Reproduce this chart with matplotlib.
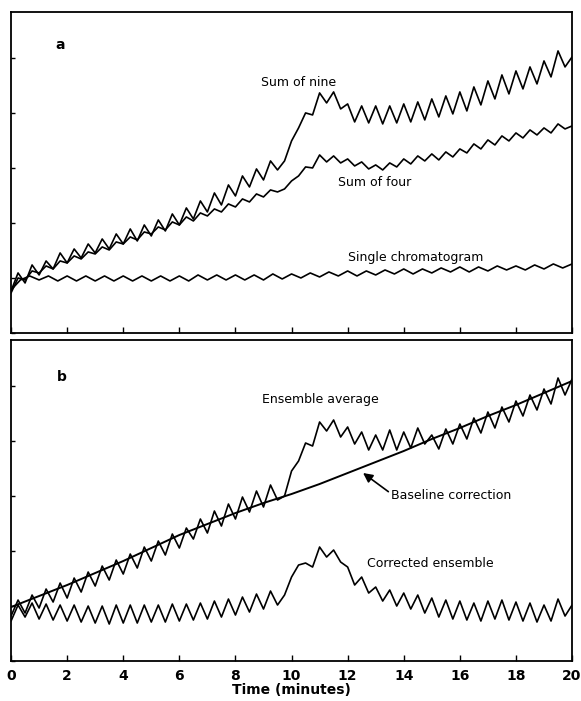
import numpy as np
from matplotlib import pyplot as plt

# Panel a traces (arbitrary detector units), sampled every 0.25 min
sum_nine = [42, 60, 50, 68, 58, 72, 64, 80, 70, 84, 75, 89, 80, 94, 84, 99, 89, 104,
            92, 108, 97, 113, 102, 119, 108, 125, 114, 132, 121, 140, 128, 148, 137,
            157, 146, 164, 153, 172, 163, 172, 192, 205, 220, 218, 240, 230, 241, 224,
            229, 211, 227, 210, 227, 209, 227, 210, 229, 211, 231, 213, 234, 216, 237,
            219, 241, 222, 246, 228, 252, 234, 258, 239, 262, 244, 266, 249, 272, 256,
            282, 266, 276]
sum_four = [40, 55, 53, 62, 60, 67, 64, 72, 70, 77, 74, 81, 79, 86, 83, 91, 89, 96,
            93, 101, 99, 106, 103, 111, 108, 116, 112, 120, 117, 124, 121, 129, 126,
            134, 131, 139, 136, 143, 141, 144, 152, 157, 166, 165, 178, 171, 177, 170,
            174, 167, 171, 164, 168, 163, 170, 166, 174, 169, 177, 172, 179, 173, 181,
            176, 184, 180, 189, 184, 193, 188, 197, 192, 200, 195, 203, 198, 205, 200,
            209, 204, 207]
# single chromatogram, sampled every 1/3 min
single = [43, 53, 57, 53, 57, 52, 57, 52, 57, 52, 57, 52, 57, 52, 57, 52, 57, 52,
          57, 52, 58, 53, 58, 53, 58, 53, 58, 53, 59, 54, 59, 55, 60, 56, 61, 57,
          62, 57, 62, 58, 63, 59, 64, 59, 64, 60, 65, 61, 66, 61, 66, 62, 67, 63,
          67, 63, 68, 64, 69, 65, 69]

# Panel b traces, sampled every 0.25 min
ensemble = [45, 61, 48, 66, 53, 72, 59, 78, 63, 83, 69, 89, 75, 95, 81, 101, 87, 107,
            93, 114, 100, 120, 106, 127, 113, 133, 122, 142, 128, 150, 135, 157, 142,
            164, 149, 170, 154, 176, 161, 165, 190, 200, 218, 215, 239, 230, 241, 224,
            234, 217, 229, 211, 226, 211, 231, 211, 229, 213, 233, 217, 226, 212, 232,
            217, 237, 222, 243, 228, 249, 233, 254, 239, 260, 245, 266, 251, 272, 257,
            283, 266, 282]
corrected = [40, 56, 44, 58, 42, 57, 41, 56, 40, 56, 39, 55, 38, 55, 37, 56, 38, 56,
             38, 56, 39, 56, 39, 57, 40, 57, 41, 58, 42, 60, 44, 62, 46, 64, 49, 67,
             52, 70, 56, 66, 84, 96, 98, 94, 114, 104, 111, 99, 94, 76, 84, 68, 74, 60,
             71, 55, 68, 52, 66, 48, 63, 44, 61, 42, 60, 41, 58, 40, 60, 42, 61, 41,
             59, 40, 58, 39, 56, 40, 62, 45, 56]
# baseline correction curve, every 1 min
baseline = [54, 65, 76, 88, 100, 113, 126, 137, 148, 158, 167, 177, 188, 199, 210,
            222, 233, 245, 256, 268, 280]

t_quarter = np.linspace(0, 20, len(sum_nine))
t_third = np.linspace(0, 20, len(single))
t_base = np.linspace(0, 20, len(baseline))

fig = plt.figure(figsize=(5.81, 7.01), dpi=100)
ax_a = fig.add_axes([0.019, 0.525, 0.9656, 0.458])
ax_b = fig.add_axes([0.019, 0.057, 0.9656, 0.458])

# Trace style: thin black pen lines with rounded corners.
pen = dict(c='black', lw=1.2, solid_joinstyle='round', solid_capstyle='round')
ax_a.plot(t_quarter, sum_nine, **pen)
ax_a.plot(t_quarter, sum_four, **pen)
ax_a.plot(t_third, single, **pen)

ax_b.plot(t_quarter, ensemble, **pen)
ax_b.plot(t_quarter, corrected, **pen)
ax_b.plot(t_base, baseline, c='black', lw=1.4)

# Format both panels.
for ax in (ax_a, ax_b):
    ax.set_xlim(0, 20)
    ax.set_ylim(0, 321)
    ax.set_xticks(range(0, 21, 2))
    ax.set_yticks(range(0, 321, 55))
    ax.tick_params(axis='both', which='major', direction='in', length=4, width=1)
    ax.tick_params(axis='y', labelleft=False, length=3)
    for s in ax.spines.values():
        s.set_linewidth(1.3)

ax_a.tick_params(axis='x', labelbottom=False)
ax_b.tick_params(axis='x', labelsize=10, pad=6)
for lab in ax_b.get_xticklabels():
    lab.set_fontweight('bold')
ax_b.set_xlabel('Time (minutes)', fontsize=10, fontweight='bold', labelpad=0)

txt = dict(fontsize=9, color='black', va='center')
ax_a.text(1.57, 288, 'a', fontsize=10, fontweight='bold', va='center')
ax_a.text(8.9, 250, 'Sum of nine', **txt)
ax_a.text(11.65, 150, 'Sum of four', **txt)
ax_a.text(12.0, 75, 'Single chromatogram', **txt)

ax_b.text(1.64, 284, 'b', fontsize=10, fontweight='bold', va='center')
ax_b.text(8.95, 261, 'Ensemble average', **txt)
ax_b.text(12.7, 98, 'Corrected ensemble', **txt)
ax_b.annotate('Baseline correction', xy=(12.55, 188), xytext=(13.55, 166),
              fontsize=9, va='center',
              arrowprops=dict(arrowstyle='-|>', color='black', lw=1.2,
                              mutation_scale=14, shrinkA=0, shrinkB=0,
                              relpos=(0, 0.6)))

plt.savefig('out.png', dpi=100)
